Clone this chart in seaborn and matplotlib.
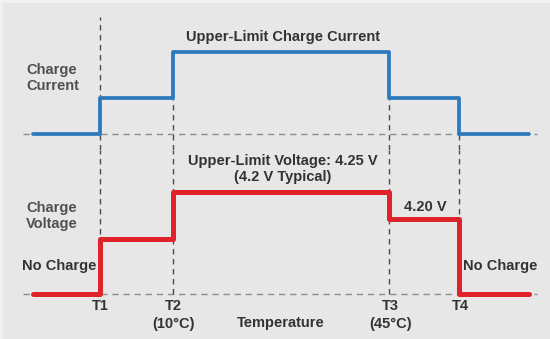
import matplotlib
matplotlib.use("Agg")
import matplotlib.pyplot as plt
import seaborn as sns
import pandas as pd
from matplotlib.patches import Rectangle

# ---------------- data ----------------
# temperature-axis breakpoints: start, T1, T2, T3, T4, end (arbitrary units)
breakpoints = [0.0, 1.0, 2.1, 5.35, 6.4, 7.45]
threshold_labels = ["T1", "T2\n(10°C)", "T3\n(45°C)", "T4"]
# relative charge current in each temperature zone
current_levels = [0.0, 0.44, 1.0, 0.44, 0.0]
# relative charge voltage in each temperature zone
voltage_levels = [0.0, 0.54, 1.0, 0.735, 0.0]

# ---------------- style ----------------
sns.set_theme(style="white")
plt.rcParams["font.family"] = ["Liberation Sans", "DejaVu Sans"]
plt.rcParams["font.weight"] = "bold"

W, H = 550, 339
BG = "#e7e7e7"
BLUE = "#2c7abd"
RED = "#e0232b"
TXT = "#333333"
TXT2 = "#505050"

fig = plt.figure(figsize=(W / 100, H / 100), dpi=100)
fig.patch.set_facecolor("#f1f1f1")
fig.patches.append(Rectangle((3 / W, 0), 1, (H - 3) / H,
                             transform=fig.transFigure, facecolor=BG,
                             edgecolor="none", zorder=-10))

# layout in pixels
x0_px, x1_px = 33, 529
split_px = 150
ppu_x = (x1_px - x0_px) / (breakpoints[-1] - breakpoints[0])
xlim = (breakpoints[0] - x0_px / ppu_x, breakpoints[0] + (W - x0_px) / ppu_x)

def fig_frac(xp, yp):
    return xp / W, 1 - yp / H

def make_ax(top_px, bot_px, base_px, one_px):
    ax = fig.add_axes([0, 1 - bot_px / H, 1, (bot_px - top_px) / H])
    ppu_y = base_px - one_px
    ax.set_xlim(*xlim)
    ax.set_ylim(-(bot_px - base_px) / ppu_y, (base_px - top_px) / ppu_y)
    ax.set_facecolor("none")
    ax.set_axis_off()
    return ax, ppu_y

ax_c, ppu_c = make_ax(0, split_px, 134, 52)
ax_v, ppu_v = make_ax(split_px, H, 294, 192)

def step_df(levels):
    return pd.DataFrame({"x": breakpoints,
                         "y": list(levels) + [levels[-1]]})

dash_v = dict(color="#4d4d4d", linestyle=(0, (4, 3.2)), linewidth=1.0, zorder=1)
dash_h = dict(color="#8c8c8c", linestyle=(0, (4.5, 3.5)), linewidth=1.0, zorder=1)

hx0 = breakpoints[0] - 10 / ppu_x
hx1 = breakpoints[-1] + 8 / ppu_x

# ---- current panel ----
ax_c.hlines(0, hx0, hx1, **dash_h)
thr = breakpoints[1:5]
ylo_c = ax_c.get_ylim()[0]
tops_c = [(134 - 17) / ppu_c, current_levels[1], current_levels[1], 0.0]
for tt, top in zip(thr, tops_c):
    ax_c.vlines(tt, ylo_c, top, **dash_v)
sns.lineplot(data=step_df(current_levels), x="x", y="y", ax=ax_c,
             drawstyle="steps-post", color=BLUE, linewidth=2.7,
             estimator=None, sort=False, zorder=3)

# ---- voltage panel ----
ax_v.hlines(0, hx0, hx1, **dash_h)
yhi_v = ax_v.get_ylim()[1]
for tt in thr:
    ax_v.vlines(tt, 0, yhi_v, **dash_v)
sns.lineplot(data=step_df(voltage_levels), x="x", y="y", ax=ax_v,
             drawstyle="steps-post", color=RED, linewidth=3.6,
             estimator=None, sort=False, zorder=3)

# ---------------- text ----------------
FS = 10.5
def t(xp, yp, s, ha="center", color=TXT, fs=FS, ls=1.1):
    fx, fy = fig_frac(xp, yp)
    fig.text(fx, fy, s, ha=ha, va="center", color=color, fontsize=fs,
             fontweight="bold", linespacing=ls)

t(283, 37, "Upper-Limit Charge Current")
t(26, 78, "Charge\nCurrent", ha="left", color=TXT2)
t(283, 169, "Upper-Limit Voltage: 4.25 V\n(4.2 V Typical)")
t(26, 216, "Charge\nVoltage", ha="left", color=TXT2)
t(22, 266, "No Charge", ha="left")
t(425, 207, "4.20 V")
t(463, 266, "No Charge", ha="left")
t(281, 323, "Temperature", fs=10.5)

for b, lab in zip(thr, threshold_labels):
    xp = x0_px + (b - breakpoints[0]) * ppu_x + 1
    lines = lab.split("\n")
    t(xp, 306, lines[0], fs=10.5)
    if len(lines) > 1:
        t(xp, 324, lines[1], fs=10.5)

fig.savefig("out.png", dpi=100, facecolor=fig.get_facecolor())
